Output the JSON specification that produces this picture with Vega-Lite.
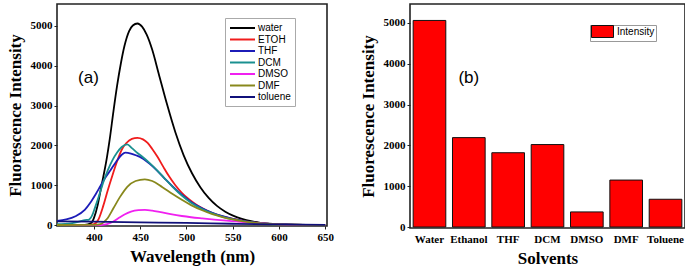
{
  "$schema": "https://vega.github.io/schema/vega-lite/v6.json",
  "background": "white",
  "padding": {"left": 5, "top": 3, "right": 2, "bottom": 2},
  "spacing": 23,
  "resolve": {"scale": {"color": "independent", "x": "independent", "y": "independent"}, "legend": {"color": "independent"}},
  "config": {
    "view": {"stroke": "#222", "strokeWidth": 1.6},
    "axis": {"labelFont": "Liberation Serif", "labelFontWeight": "bold", "labelFontSize": 11, "labelColor": "#000", "titleFont": "Liberation Serif", "titleFontWeight": "bold", "titleFontSize": 17, "titleColor": "#000", "grid": false, "domain": false, "tickColor": "#222", "tickSize": 3, "labelPadding": 2},
    "legend": {"labelFont": "Liberation Sans", "labelFontSize": 10, "labelColor": "#000"}
  },
  "hconcat": [
    {
      "width": 270,
      "height": 222,
      "data": {"values": [
        {"solvent": "water", "wl": 360, "v": 0}, {"solvent": "water", "wl": 390, "v": 5}, {"solvent": "water", "wl": 397, "v": 50}, {"solvent": "water", "wl": 400, "v": 180}, {"solvent": "water", "wl": 404, "v": 500}, {"solvent": "water", "wl": 407, "v": 850}, {"solvent": "water", "wl": 410, "v": 1200}, {"solvent": "water", "wl": 414, "v": 1700}, {"solvent": "water", "wl": 417, "v": 2150}, {"solvent": "water", "wl": 421, "v": 2850}, {"solvent": "water", "wl": 425, "v": 3500}, {"solvent": "water", "wl": 429, "v": 4050}, {"solvent": "water", "wl": 433, "v": 4500}, {"solvent": "water", "wl": 438, "v": 4870}, {"solvent": "water", "wl": 442, "v": 5010}, {"solvent": "water", "wl": 447, "v": 5060}, {"solvent": "water", "wl": 452, "v": 4980}, {"solvent": "water", "wl": 457, "v": 4780}, {"solvent": "water", "wl": 463, "v": 4400}, {"solvent": "water", "wl": 470, "v": 3800}, {"solvent": "water", "wl": 479, "v": 3030}, {"solvent": "water", "wl": 488, "v": 2330}, {"solvent": "water", "wl": 497, "v": 1750}, {"solvent": "water", "wl": 506, "v": 1300}, {"solvent": "water", "wl": 515, "v": 950}, {"solvent": "water", "wl": 524, "v": 680}, {"solvent": "water", "wl": 533, "v": 480}, {"solvent": "water", "wl": 542, "v": 335}, {"solvent": "water", "wl": 551, "v": 230}, {"solvent": "water", "wl": 560, "v": 155}, {"solvent": "water", "wl": 570, "v": 95}, {"solvent": "water", "wl": 580, "v": 55}, {"solvent": "water", "wl": 595, "v": 25}, {"solvent": "water", "wl": 615, "v": 8}, {"solvent": "water", "wl": 650, "v": 0},
        {"solvent": "ETOH", "wl": 360, "v": 0}, {"solvent": "ETOH", "wl": 395, "v": 0}, {"solvent": "ETOH", "wl": 400, "v": 20}, {"solvent": "ETOH", "wl": 405, "v": 150}, {"solvent": "ETOH", "wl": 410, "v": 480}, {"solvent": "ETOH", "wl": 415, "v": 880}, {"solvent": "ETOH", "wl": 420, "v": 1250}, {"solvent": "ETOH", "wl": 425, "v": 1600}, {"solvent": "ETOH", "wl": 430, "v": 1890}, {"solvent": "ETOH", "wl": 435, "v": 2060}, {"solvent": "ETOH", "wl": 441, "v": 2165}, {"solvent": "ETOH", "wl": 447, "v": 2190}, {"solvent": "ETOH", "wl": 453, "v": 2150}, {"solvent": "ETOH", "wl": 458, "v": 2060}, {"solvent": "ETOH", "wl": 463, "v": 1910}, {"solvent": "ETOH", "wl": 469, "v": 1700}, {"solvent": "ETOH", "wl": 475, "v": 1460}, {"solvent": "ETOH", "wl": 481, "v": 1230}, {"solvent": "ETOH", "wl": 488, "v": 1000}, {"solvent": "ETOH", "wl": 495, "v": 810}, {"solvent": "ETOH", "wl": 503, "v": 640}, {"solvent": "ETOH", "wl": 512, "v": 490}, {"solvent": "ETOH", "wl": 522, "v": 365}, {"solvent": "ETOH", "wl": 532, "v": 270}, {"solvent": "ETOH", "wl": 542, "v": 200}, {"solvent": "ETOH", "wl": 552, "v": 145}, {"solvent": "ETOH", "wl": 562, "v": 100}, {"solvent": "ETOH", "wl": 575, "v": 60}, {"solvent": "ETOH", "wl": 590, "v": 28}, {"solvent": "ETOH", "wl": 610, "v": 9}, {"solvent": "ETOH", "wl": 650, "v": 0},
        {"solvent": "THF", "wl": 360, "v": 100}, {"solvent": "THF", "wl": 370, "v": 140}, {"solvent": "THF", "wl": 380, "v": 220}, {"solvent": "THF", "wl": 390, "v": 380}, {"solvent": "THF", "wl": 396, "v": 560}, {"solvent": "THF", "wl": 402, "v": 780}, {"solvent": "THF", "wl": 407, "v": 980}, {"solvent": "THF", "wl": 412, "v": 1180}, {"solvent": "THF", "wl": 418, "v": 1380}, {"solvent": "THF", "wl": 424, "v": 1590}, {"solvent": "THF", "wl": 430, "v": 1765}, {"solvent": "THF", "wl": 434, "v": 1817}, {"solvent": "THF", "wl": 440, "v": 1795}, {"solvent": "THF", "wl": 446, "v": 1745}, {"solvent": "THF", "wl": 452, "v": 1680}, {"solvent": "THF", "wl": 460, "v": 1540}, {"solvent": "THF", "wl": 468, "v": 1370}, {"solvent": "THF", "wl": 476, "v": 1180}, {"solvent": "THF", "wl": 485, "v": 970}, {"solvent": "THF", "wl": 495, "v": 760}, {"solvent": "THF", "wl": 505, "v": 580}, {"solvent": "THF", "wl": 517, "v": 420}, {"solvent": "THF", "wl": 528, "v": 305}, {"solvent": "THF", "wl": 540, "v": 215}, {"solvent": "THF", "wl": 550, "v": 155}, {"solvent": "THF", "wl": 560, "v": 110}, {"solvent": "THF", "wl": 575, "v": 62}, {"solvent": "THF", "wl": 590, "v": 30}, {"solvent": "THF", "wl": 610, "v": 12}, {"solvent": "THF", "wl": 650, "v": 0},
        {"solvent": "DCM", "wl": 360, "v": 20}, {"solvent": "DCM", "wl": 375, "v": 40}, {"solvent": "DCM", "wl": 385, "v": 90}, {"solvent": "DCM", "wl": 390, "v": 125}, {"solvent": "DCM", "wl": 394, "v": 130}, {"solvent": "DCM", "wl": 398, "v": 240}, {"solvent": "DCM", "wl": 401, "v": 430}, {"solvent": "DCM", "wl": 405, "v": 700}, {"solvent": "DCM", "wl": 410, "v": 1070}, {"solvent": "DCM", "wl": 415, "v": 1380}, {"solvent": "DCM", "wl": 420, "v": 1630}, {"solvent": "DCM", "wl": 425, "v": 1820}, {"solvent": "DCM", "wl": 430, "v": 1960}, {"solvent": "DCM", "wl": 436, "v": 2027}, {"solvent": "DCM", "wl": 441, "v": 1930}, {"solvent": "DCM", "wl": 447, "v": 1810}, {"solvent": "DCM", "wl": 452, "v": 1720}, {"solvent": "DCM", "wl": 460, "v": 1560}, {"solvent": "DCM", "wl": 468, "v": 1380}, {"solvent": "DCM", "wl": 476, "v": 1180}, {"solvent": "DCM", "wl": 485, "v": 960}, {"solvent": "DCM", "wl": 495, "v": 740}, {"solvent": "DCM", "wl": 505, "v": 560}, {"solvent": "DCM", "wl": 517, "v": 400}, {"solvent": "DCM", "wl": 528, "v": 290}, {"solvent": "DCM", "wl": 540, "v": 200}, {"solvent": "DCM", "wl": 550, "v": 142}, {"solvent": "DCM", "wl": 560, "v": 100}, {"solvent": "DCM", "wl": 575, "v": 55}, {"solvent": "DCM", "wl": 590, "v": 25}, {"solvent": "DCM", "wl": 610, "v": 10}, {"solvent": "DCM", "wl": 650, "v": 0},
        {"solvent": "DMSO", "wl": 360, "v": 0}, {"solvent": "DMSO", "wl": 408, "v": 0}, {"solvent": "DMSO", "wl": 414, "v": 20}, {"solvent": "DMSO", "wl": 420, "v": 75}, {"solvent": "DMSO", "wl": 427, "v": 180}, {"solvent": "DMSO", "wl": 433, "v": 265}, {"solvent": "DMSO", "wl": 440, "v": 335}, {"solvent": "DMSO", "wl": 448, "v": 372}, {"solvent": "DMSO", "wl": 455, "v": 380}, {"solvent": "DMSO", "wl": 463, "v": 362}, {"solvent": "DMSO", "wl": 472, "v": 322}, {"solvent": "DMSO", "wl": 483, "v": 272}, {"solvent": "DMSO", "wl": 495, "v": 226}, {"solvent": "DMSO", "wl": 505, "v": 195}, {"solvent": "DMSO", "wl": 517, "v": 165}, {"solvent": "DMSO", "wl": 530, "v": 135}, {"solvent": "DMSO", "wl": 540, "v": 115}, {"solvent": "DMSO", "wl": 550, "v": 95}, {"solvent": "DMSO", "wl": 565, "v": 65}, {"solvent": "DMSO", "wl": 580, "v": 40}, {"solvent": "DMSO", "wl": 600, "v": 18}, {"solvent": "DMSO", "wl": 625, "v": 5}, {"solvent": "DMSO", "wl": 650, "v": 0},
        {"solvent": "DMF", "wl": 360, "v": 0}, {"solvent": "DMF", "wl": 400, "v": 5}, {"solvent": "DMF", "wl": 407, "v": 25}, {"solvent": "DMF", "wl": 414, "v": 150}, {"solvent": "DMF", "wl": 421, "v": 420}, {"solvent": "DMF", "wl": 428, "v": 700}, {"solvent": "DMF", "wl": 436, "v": 960}, {"solvent": "DMF", "wl": 445, "v": 1105}, {"solvent": "DMF", "wl": 455, "v": 1148}, {"solvent": "DMF", "wl": 463, "v": 1105}, {"solvent": "DMF", "wl": 474, "v": 950}, {"solvent": "DMF", "wl": 485, "v": 780}, {"solvent": "DMF", "wl": 495, "v": 635}, {"solvent": "DMF", "wl": 505, "v": 500}, {"solvent": "DMF", "wl": 517, "v": 370}, {"solvent": "DMF", "wl": 528, "v": 272}, {"solvent": "DMF", "wl": 539, "v": 200}, {"solvent": "DMF", "wl": 550, "v": 142}, {"solvent": "DMF", "wl": 560, "v": 100}, {"solvent": "DMF", "wl": 575, "v": 55}, {"solvent": "DMF", "wl": 590, "v": 25}, {"solvent": "DMF", "wl": 610, "v": 10}, {"solvent": "DMF", "wl": 650, "v": 0},
        {"solvent": "toluene", "wl": 360, "v": 90}, {"solvent": "toluene", "wl": 400, "v": 85}, {"solvent": "toluene", "wl": 450, "v": 68}, {"solvent": "toluene", "wl": 500, "v": 52}, {"solvent": "toluene", "wl": 550, "v": 32}, {"solvent": "toluene", "wl": 600, "v": 15}, {"solvent": "toluene", "wl": 650, "v": 5}
      ]},
      "layer": [
        {
          "mark": {"type": "line", "strokeWidth": 1.8, "interpolate": "monotone", "clip": true},
          "encoding": {
            "x": {"field": "wl", "type": "quantitative", "scale": {"domain": [360, 652], "nice": false, "zero": false}, "axis": {"values": [400, 450, 500, 550, 600, 650], "format": "d", "title": "Wavelength (nm)", "titlePadding": 6}},
            "y": {"field": "v", "type": "quantitative", "scale": {"domain": [-25, 5550], "nice": false}, "axis": {"values": [0, 1000, 2000, 3000, 4000, 5000], "format": "d", "title": "Fluorescence Intensity", "titlePadding": 6}},
            "color": {"field": "solvent", "type": "nominal",
              "scale": {"domain": ["water", "ETOH", "THF", "DCM", "DMSO", "DMF", "toluene"], "range": ["#000000", "#f01c1c", "#1c1cb8", "#1a9090", "#f020f0", "#88881c", "#10107a"]},
              "legend": {"orient": "none", "legendX": 168, "legendY": 14, "title": null, "symbolType": "M-1,0H4", "symbolSize": 100, "symbolStrokeWidth": 2, "labelOffset": 17, "rowPadding": 0.5, "padding": 4, "strokeColor": "#aaaaaa", "fillColor": "white"}}
          }
        },
        {
          "data": {"values": [{"label": "(a)", "wl": 394, "v": 3700}]},
          "mark": {"type": "text", "font": "Liberation Sans", "fontSize": 17, "color": "#000"},
          "encoding": {
            "x": {"field": "wl", "type": "quantitative"},
            "y": {"field": "v", "type": "quantitative"},
            "text": {"field": "label"}
          }
        }
      ]
    },
    {
      "width": 275,
      "height": 224,
      "data": {"values": [
        {"solvent": "Water", "v": 5060},
        {"solvent": "Ethanol", "v": 2190},
        {"solvent": "THF", "v": 1820},
        {"solvent": "DCM", "v": 2020},
        {"solvent": "DMSO", "v": 370},
        {"solvent": "DMF", "v": 1150},
        {"solvent": "Toluene", "v": 680}
      ]},
      "layer": [
        {
          "mark": {"type": "bar", "stroke": "#111", "strokeWidth": 1},
          "encoding": {
            "x": {"field": "solvent", "type": "nominal", "scale": {"domain": ["Water", "Ethanol", "THF", "DCM", "DMSO", "DMF", "Toluene"], "paddingInner": 0.17, "paddingOuter": 0.08}, "axis": {"title": "Solvents", "labelAngle": 0, "ticks": false, "labelPadding": 5, "titlePadding": 6}},
            "y": {"field": "v", "type": "quantitative", "scale": {"domain": [-24, 5463], "nice": false}, "axis": {"values": [0, 1000, 2000, 3000, 4000, 5000], "format": "d", "title": "Fluorescence Intensity", "titlePadding": 6}},
            "color": {"datum": "Intensity", "type": "nominal", "scale": {"range": ["#ff0000"]},
              "legend": {"orient": "none", "legendX": 180, "legendY": 21, "title": null, "symbolType": "M-1,-1.2H3.4V1.2H-1Z", "symbolSize": 100, "symbolStrokeColor": "#111", "symbolStrokeWidth": 1, "labelOffset": 15, "padding": 1, "strokeColor": "#999999", "fillColor": "white"}}
          }
        },
        {
          "data": {"values": [{"label": "(b)", "solvent": "Ethanol", "v": 3650}]},
          "mark": {"type": "text", "font": "Liberation Sans", "fontSize": 17, "color": "#000"},
          "encoding": {
            "x": {"field": "solvent", "type": "nominal"},
            "y": {"field": "v", "type": "quantitative"},
            "text": {"field": "label"}
          }
        }
      ]
    }
  ]
}
